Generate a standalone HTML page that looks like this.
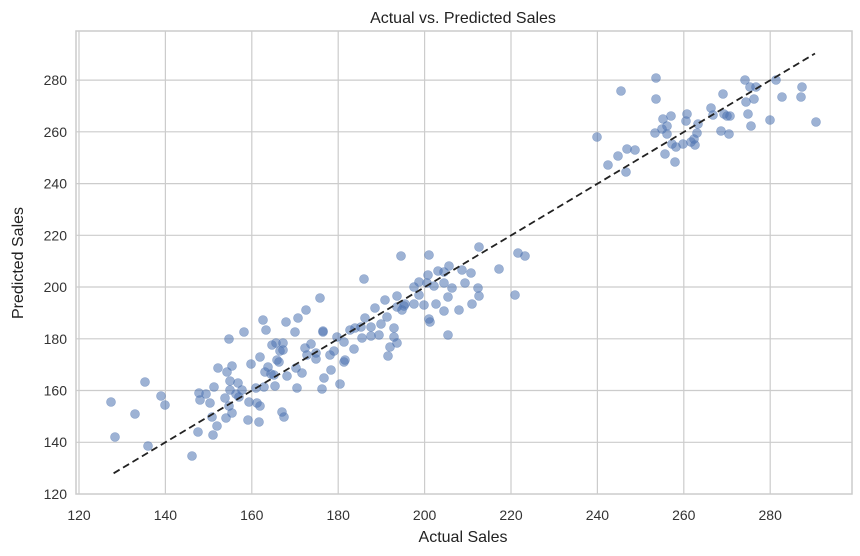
<!DOCTYPE html>
<html><head><meta charset="utf-8"><style>body{margin:0;background:#fff}svg{display:block}</style></head><body>
<svg width="860" height="556" xmlns="http://www.w3.org/2000/svg" font-family="Liberation Sans, DejaVu Sans, sans-serif">
<rect width="860" height="556" fill="#fff"/>
<g stroke="#cccccc" stroke-width="1.2">
<line x1="79" y1="31" x2="79" y2="494"/><line x1="165.4" y1="31" x2="165.4" y2="494"/><line x1="251.8" y1="31" x2="251.8" y2="494"/><line x1="338.2" y1="31" x2="338.2" y2="494"/><line x1="424.6" y1="31" x2="424.6" y2="494"/><line x1="511" y1="31" x2="511" y2="494"/><line x1="597.4" y1="31" x2="597.4" y2="494"/><line x1="683.8" y1="31" x2="683.8" y2="494"/><line x1="770.2" y1="31" x2="770.2" y2="494"/>
<line x1="76" y1="442.3" x2="852" y2="442.3"/><line x1="76" y1="390.5" x2="852" y2="390.5"/><line x1="76" y1="338.8" x2="852" y2="338.8"/><line x1="76" y1="287" x2="852" y2="287"/><line x1="76" y1="235.3" x2="852" y2="235.3"/><line x1="76" y1="183.6" x2="852" y2="183.6"/><line x1="76" y1="131.8" x2="852" y2="131.8"/><line x1="76" y1="80.1" x2="852" y2="80.1"/>
</g>
<rect x="76" y="31" width="776" height="463" fill="none" stroke="#cccccc" stroke-width="1.5"/>
<g fill="#4c72b0" fill-opacity="0.55" stroke="#4c72b0" stroke-opacity="0.5" stroke-width="0.6">
<circle cx="111" cy="402" r="4.5"/><circle cx="115" cy="437" r="4.5"/><circle cx="135" cy="414" r="4.5"/><circle cx="145" cy="382" r="4.5"/><circle cx="148" cy="446" r="4.5"/><circle cx="161" cy="396" r="4.5"/><circle cx="165" cy="405" r="4.5"/><circle cx="192" cy="456" r="4.5"/><circle cx="198" cy="432" r="4.5"/><circle cx="199" cy="393" r="4.5"/><circle cx="200" cy="400" r="4.5"/><circle cx="206" cy="394" r="4.5"/><circle cx="210" cy="403" r="4.5"/><circle cx="212" cy="417" r="4.5"/><circle cx="213" cy="435" r="4.5"/><circle cx="214" cy="387" r="4.5"/><circle cx="217" cy="426" r="4.5"/><circle cx="218" cy="368" r="4.5"/><circle cx="225" cy="398" r="4.5"/><circle cx="226" cy="418" r="4.5"/><circle cx="227" cy="372" r="4.5"/><circle cx="229" cy="339" r="4.5"/><circle cx="230" cy="381" r="4.5"/><circle cx="230" cy="390" r="4.5"/><circle cx="229" cy="406" r="4.5"/><circle cx="232" cy="413" r="4.5"/><circle cx="232" cy="366" r="4.5"/><circle cx="236" cy="394" r="4.5"/><circle cx="238" cy="383" r="4.5"/><circle cx="239" cy="397" r="4.5"/><circle cx="242" cy="390" r="4.5"/><circle cx="244" cy="332" r="4.5"/><circle cx="248" cy="420" r="4.5"/><circle cx="249" cy="402" r="4.5"/><circle cx="251" cy="364" r="4.5"/><circle cx="256" cy="388" r="4.5"/><circle cx="257" cy="403" r="4.5"/><circle cx="259" cy="422" r="4.5"/><circle cx="260" cy="357" r="4.5"/><circle cx="260" cy="406" r="4.5"/><circle cx="263" cy="320" r="4.5"/><circle cx="264" cy="387" r="4.5"/><circle cx="265" cy="372" r="4.5"/><circle cx="266" cy="330" r="4.5"/><circle cx="268" cy="367" r="4.5"/><circle cx="271" cy="374" r="4.5"/><circle cx="272" cy="345" r="4.5"/><circle cx="274" cy="375" r="4.5"/><circle cx="275" cy="386" r="4.5"/><circle cx="276" cy="343" r="4.5"/><circle cx="277" cy="360" r="4.5"/><circle cx="279" cy="362" r="4.5"/><circle cx="280" cy="351" r="4.5"/><circle cx="282" cy="412" r="4.5"/><circle cx="283" cy="343" r="4.5"/><circle cx="283" cy="350" r="4.5"/><circle cx="284" cy="417" r="4.5"/><circle cx="286" cy="322" r="4.5"/><circle cx="287" cy="376" r="4.5"/><circle cx="295" cy="332" r="4.5"/><circle cx="296" cy="368" r="4.5"/><circle cx="297" cy="388" r="4.5"/><circle cx="298" cy="318" r="4.5"/><circle cx="302" cy="373" r="4.5"/><circle cx="305" cy="348" r="4.5"/><circle cx="306" cy="310" r="4.5"/><circle cx="307" cy="355" r="4.5"/><circle cx="311" cy="344" r="4.5"/><circle cx="316" cy="353" r="4.5"/><circle cx="316" cy="359" r="4.5"/><circle cx="320" cy="298" r="4.5"/><circle cx="322" cy="389" r="4.5"/><circle cx="323" cy="331" r="4.5"/><circle cx="324" cy="378" r="4.5"/><circle cx="330" cy="355" r="4.5"/><circle cx="331" cy="370" r="4.5"/><circle cx="334" cy="351" r="4.5"/>
<circle cx="340" cy="384" r="4.5"/><circle cx="344" cy="362" r="4.5"/><circle cx="345" cy="360" r="4.5"/><circle cx="344" cy="342" r="4.5"/><circle cx="337" cy="337" r="4.5"/><circle cx="323" cy="332" r="4.5"/><circle cx="354" cy="349" r="4.5"/><circle cx="362" cy="338" r="4.5"/><circle cx="371" cy="336" r="4.5"/><circle cx="379" cy="335" r="4.5"/><circle cx="388" cy="356" r="4.5"/><circle cx="390" cy="347" r="4.5"/><circle cx="394" cy="337" r="4.5"/><circle cx="397" cy="343" r="4.5"/><circle cx="448" cy="335" r="4.5"/>
<circle cx="364" cy="279" r="4.5"/><circle cx="401" cy="256" r="4.5"/><circle cx="429" cy="255" r="4.5"/><circle cx="479" cy="247" r="4.5"/><circle cx="518" cy="253" r="4.5"/><circle cx="525" cy="256" r="4.5"/><circle cx="499" cy="269" r="4.5"/><circle cx="515" cy="295" r="4.5"/><circle cx="462" cy="270" r="4.5"/><circle cx="471" cy="273" r="4.5"/><circle cx="449" cy="266" r="4.5"/><circle cx="438" cy="271" r="4.5"/><circle cx="444" cy="272" r="4.5"/><circle cx="428" cy="275" r="4.5"/><circle cx="419" cy="282" r="4.5"/><circle cx="414" cy="287" r="4.5"/><circle cx="427" cy="283" r="4.5"/><circle cx="434" cy="286" r="4.5"/><circle cx="444" cy="283" r="4.5"/><circle cx="452" cy="288" r="4.5"/><circle cx="465" cy="283" r="4.5"/><circle cx="478" cy="288" r="4.5"/><circle cx="479" cy="296" r="4.5"/><circle cx="472" cy="304" r="4.5"/><circle cx="459" cy="310" r="4.5"/><circle cx="444" cy="311" r="4.5"/><circle cx="448" cy="297" r="4.5"/><circle cx="436" cy="304" r="4.5"/><circle cx="424" cy="305" r="4.5"/><circle cx="419" cy="295" r="4.5"/><circle cx="414" cy="304" r="4.5"/><circle cx="429" cy="319" r="4.5"/><circle cx="430" cy="322" r="4.5"/><circle cx="397" cy="296" r="4.5"/><circle cx="385" cy="300" r="4.5"/><circle cx="375" cy="308" r="4.5"/><circle cx="405" cy="304" r="4.5"/><circle cx="404" cy="306" r="4.5"/><circle cx="397" cy="307" r="4.5"/><circle cx="402" cy="310" r="4.5"/><circle cx="387" cy="317" r="4.5"/><circle cx="381" cy="324" r="4.5"/><circle cx="394" cy="328" r="4.5"/><circle cx="365" cy="318" r="4.5"/><circle cx="361" cy="327" r="4.5"/><circle cx="371" cy="327" r="4.5"/><circle cx="355" cy="328" r="4.5"/><circle cx="350" cy="330" r="4.5"/>
<circle cx="597" cy="137" r="4.5"/><circle cx="608" cy="165" r="4.5"/><circle cx="618" cy="156" r="4.5"/><circle cx="626" cy="172" r="4.5"/><circle cx="627" cy="149" r="4.5"/><circle cx="635" cy="150" r="4.5"/><circle cx="621" cy="91" r="4.5"/><circle cx="656" cy="78" r="4.5"/><circle cx="656" cy="99" r="4.5"/><circle cx="655" cy="133" r="4.5"/><circle cx="662" cy="129" r="4.5"/><circle cx="663" cy="119" r="4.5"/><circle cx="665" cy="154" r="4.5"/><circle cx="667" cy="126" r="4.5"/><circle cx="667" cy="134" r="4.5"/><circle cx="671" cy="116" r="4.5"/><circle cx="672" cy="144" r="4.5"/><circle cx="675" cy="162" r="4.5"/><circle cx="676" cy="147" r="4.5"/><circle cx="683" cy="144" r="4.5"/><circle cx="686" cy="121" r="4.5"/><circle cx="687" cy="114" r="4.5"/><circle cx="691" cy="142" r="4.5"/><circle cx="695" cy="145" r="4.5"/><circle cx="694" cy="139" r="4.5"/><circle cx="697" cy="133" r="4.5"/><circle cx="698" cy="124" r="4.5"/><circle cx="711" cy="108" r="4.5"/><circle cx="713" cy="115" r="4.5"/><circle cx="721" cy="131" r="4.5"/><circle cx="723" cy="94" r="4.5"/><circle cx="724" cy="114" r="4.5"/><circle cx="727" cy="116" r="4.5"/><circle cx="730" cy="116" r="4.5"/><circle cx="729" cy="134" r="4.5"/><circle cx="745" cy="80" r="4.5"/><circle cx="750" cy="87" r="4.5"/><circle cx="756" cy="87" r="4.5"/><circle cx="746" cy="102" r="4.5"/><circle cx="754" cy="99" r="4.5"/><circle cx="748" cy="114" r="4.5"/><circle cx="751" cy="126" r="4.5"/><circle cx="770" cy="120" r="4.5"/><circle cx="776" cy="80" r="4.5"/><circle cx="782" cy="97" r="4.5"/><circle cx="802" cy="87" r="4.5"/><circle cx="801" cy="97" r="4.5"/><circle cx="816" cy="122" r="4.5"/>
</g>
<line x1="113.6" y1="473.3" x2="815" y2="53.5" stroke="#222" stroke-width="1.8" stroke-dasharray="7,4"/>
<g font-size="14" fill="#333" text-anchor="middle">
<text x="79" y="520">120</text><text x="165.4" y="520">140</text><text x="251.8" y="520">160</text><text x="338.2" y="520">180</text><text x="424.6" y="520">200</text><text x="511" y="520">220</text><text x="597.4" y="520">240</text><text x="683.8" y="520">260</text><text x="770.2" y="520">280</text>
</g>
<g font-size="14" fill="#333" text-anchor="end">
<text x="67" y="499">120</text><text x="67" y="447">140</text><text x="67" y="395.5">160</text><text x="67" y="344">180</text><text x="67" y="292">200</text><text x="67" y="240.5">220</text><text x="67" y="188.5">240</text><text x="67" y="137">260</text><text x="67" y="85">280</text>
</g>
<text x="463" y="23" font-size="16" fill="#222" text-anchor="middle">Actual vs. Predicted Sales</text>
<text x="463" y="542" font-size="16" fill="#222" text-anchor="middle">Actual Sales</text>
<text transform="translate(23,263) rotate(-90)" font-size="16" fill="#222" text-anchor="middle">Predicted Sales</text>
</svg>
</body></html>
